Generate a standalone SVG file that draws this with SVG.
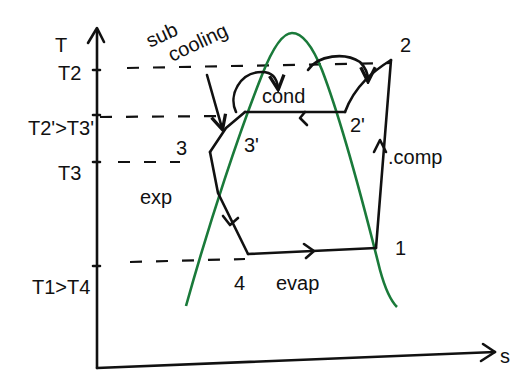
<svg xmlns="http://www.w3.org/2000/svg" width="518" height="379" viewBox="0 0 518 379">
<defs>
<style>
.ln{fill:none;stroke:#111;stroke-width:2.6;stroke-linecap:round;stroke-linejoin:round}
.ds{fill:none;stroke:#111;stroke-width:2.2;stroke-dasharray:12 14}
.dome{fill:none;stroke:#1a7a3a;stroke-width:2.6}
text{font-family:"Liberation Sans",Arial,sans-serif;fill:#111;font-size:20px}
</style>
<marker id="ah" viewBox="0 0 10 10" refX="8" refY="5" markerWidth="7" markerHeight="7" orient="auto-start-reverse">
<path d="M1,1 L9,5 L1,9" fill="none" stroke="#111" stroke-width="1.8"/>
</marker>
</defs>
<rect width="518" height="379" fill="#fff"/>
<g id="axes">
<path class="ln" d="M97,368 L97,30"/>
<path class="ln" d="M88,43 L97,28 L104,42"/>
<path class="ln" d="M97,368 L495,352"/>
<path class="ln" d="M483,344 L495,352 L481,361"/>
<path class="ln" d="M93,70 L100,70 M93,115 L100,115 M93,162 L100,162 M93,266 L100,266"/>
</g>
<g id="labels">
<text x="55" y="52">T</text>
<text x="58" y="80">T2</text>
<text x="28" y="135" font-size="18">T2'&gt;T3'</text>
<text x="58" y="180">T3</text>
<text x="32" y="294" font-size="18">T1&gt;T4</text>
<text x="500" y="363">s</text>
</g>
<g id="dashes">
<path class="ds" d="M127,68 L390,63"/>
<path class="ds" d="M100,117 L225,116"/>
<path class="ds" d="M118,162 L180,162"/>
<path class="ds" d="M130,262 L245,259"/>
</g>
<g id="dome">
<path class="dome" d="M186,306 C210,220 240,130 262,75 C275,42 285,33 292,33 C302,33 312,45 322,70 C345,130 370,230 380,270 C386,292 392,302 397,307"/>
</g>
<g id="connectors">
<path class="ln" d="M210,152 L218,193 L248,254"/>
<path class="ln" d="M223,216 L230,225 L238,218"/>
<path class="ln" d="M248,254 L376,248"/>
<path class="ln" d="M304,244 L314,251 L306,258"/>
<path class="ln" d="M376,248 L391,60"/>
<path class="ln" d="M374,152 L380,140 L386,152"/>
<path class="ln" d="M391,60 C375,70 355,85 345,112"/>
<path class="ln" d="M345,112 L245,112"/>
<path class="ln" d="M305,112 L300,118 L307,125"/>
<path class="ln" d="M245,112 L226,128 L210,152"/>
<path class="ln" d="M207,75 L222,128" marker-end="url(#ah)"/>
<path class="ln" d="M236,112 C228,95 240,72 262,72 C272,72 277,78 278,88" marker-end="url(#ah)"/>
<path class="ln" d="M308,70 C318,55 345,52 360,62 C366,68 368,75 368,80" marker-end="url(#ah)"/>
</g>
<g id="point-labels">
<text x="400" y="52">2</text>
<text x="350" y="132">2'</text>
<text x="244" y="152">3'</text>
<text x="176" y="155">3</text>
<text x="395" y="255" font-size="18">1</text>
<text x="234" y="290">4</text>
</g>
<g id="process-labels">
<text x="262" y="103" font-size="22">cond</text>
<text x="388" y="164" font-size="20">.comp</text>
<text x="140" y="204" font-size="20">exp</text>
<text x="276" y="290" font-size="22">evap</text>
<text x="150" y="48" font-size="19" transform="rotate(-25 150 48)">sub</text>
<text x="172" y="62" font-size="19" transform="rotate(-25 172 62)">cooling</text>
</g>
</svg>
